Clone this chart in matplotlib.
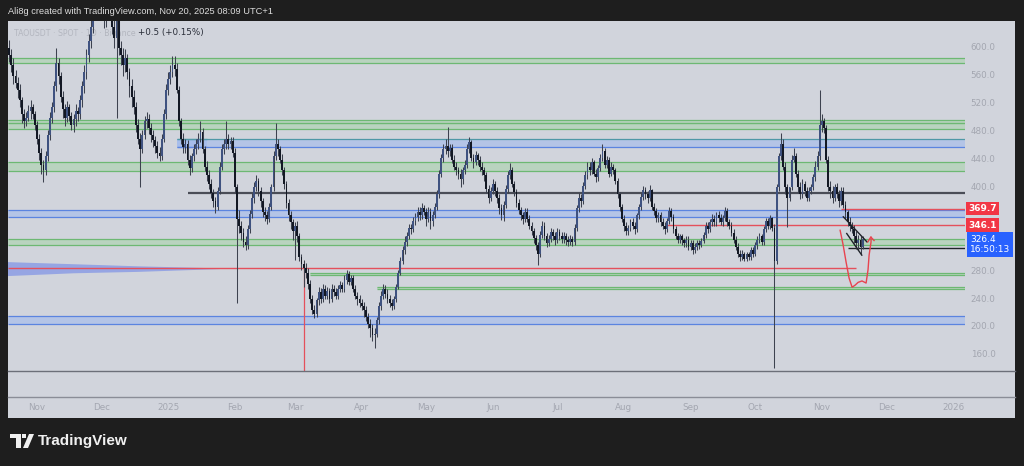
import numpy as np
import pandas as pd
import matplotlib.pyplot as plt
import matplotlib.transforms as mtransforms
from matplotlib.lines import Line2D
from matplotlib.patches import Rectangle, Polygon

# TAOUSDT daily candles (Oct 19 2024 -> Nov 20 2025)
start = pd.Timestamp('2024-10-19')
first_open = 600

closes = [
    590, 575, 560, 550, 540, 525, 505, 495, 500, 510,
    515, 505, 490, 470, 450, 432, 425, 445, 475, 500,
    515, 545, 578, 560, 530, 512, 500, 515, 502, 490,
    498, 510, 505, 525, 545, 565, 590, 610, 630, 650,
    680, 700, 690, 660, 640, 660, 690, 650, 630, 615,
    640, 600, 590, 575, 585, 565, 545, 530, 515, 490,
    470, 455, 475, 495, 498, 485, 475, 468, 460, 450,
    445, 470, 505, 540, 555, 565, 575, 570, 540, 495,
    470, 458, 462, 440, 428, 445, 455, 462, 470, 480,
    455, 430, 418, 405, 392, 380, 372, 395, 430, 455,
    462, 470, 462, 466, 450, 400, 355, 345, 335, 322,
    318, 340, 362, 385, 400, 410, 395, 380, 365, 360,
    355, 372, 400, 445, 462, 455, 440, 425, 405, 378,
    360, 350, 338, 345, 330, 300, 290, 285, 278, 262,
    240, 225, 218, 238, 250, 240, 255, 245, 252, 240,
    255, 250, 245, 255, 260, 255, 268, 276, 265, 270,
    255, 245, 240, 235, 230, 225, 215, 205, 198, 188,
    190, 210, 230, 245, 255, 248, 240, 235, 230, 240,
    258, 278, 295, 310, 322, 330, 342, 340, 352, 358,
    365, 360, 370, 365, 355, 365, 352, 360, 372, 390,
    420, 442, 455, 460, 452, 456, 440, 430, 425, 420,
    412, 425, 432, 455, 465, 442, 436, 446, 440, 430,
    425, 418, 398, 385, 395, 405, 395, 385, 370, 360,
    375, 398, 418, 425, 405, 393, 378, 368, 360, 355,
    365, 355, 345, 338, 328, 318, 305, 332, 345, 330,
    320, 326, 336, 330, 325, 336, 330, 326, 330, 324,
    322, 326, 322, 342, 370, 385, 380, 402, 418, 430,
    425, 436, 420, 415, 428, 442, 452, 432, 440, 420,
    430, 425, 410, 390, 372, 355, 345, 338, 342, 350,
    345, 340, 360, 372, 386, 396, 390, 385, 396, 372,
    366, 356, 360, 350, 345, 340, 352, 366, 358, 340,
    330, 325, 330, 324, 320, 325, 315, 320, 310, 315,
    320, 318, 323, 332, 345, 340, 350, 355, 350, 360,
    356, 350, 356, 366, 350, 345, 335, 325, 315, 305,
    300, 305, 298, 304, 300, 310, 305, 318, 325, 330,
    322, 340, 352, 345, 356, 342, 295, 400, 445, 462,
    430, 400, 385, 400, 440, 445, 420, 400, 390, 405,
    395, 385, 395, 400, 415, 430, 445, 490, 495, 485,
    440, 400, 395, 385, 400, 390, 380, 395, 375, 365,
    350, 345, 340, 330, 320, 325, 315, 326.4,
]

highs = [
    612, 598, 585, 568, 558, 548, 530, 512, 508, 518,
    525, 520, 510, 495, 476, 456, 440, 452, 482, 508,
    522, 552, 600, 585, 566, 538, 520, 524, 520, 508,
    506, 520, 515, 532, 552, 575, 598, 620, 642, 665,
    690, 720, 715, 700, 670, 668, 705, 700, 660, 640,
    660, 645, 610, 600, 598, 592, 572, 555, 540, 522,
    498, 478, 482, 502, 508, 505, 492, 482, 474, 466,
    458, 476, 512, 548, 565, 575, 588, 588, 578, 545,
    500, 478, 470, 468, 446, 450, 462, 470, 478, 495,
    485, 460, 438, 425, 412, 398, 386, 400, 436, 462,
    470, 495, 476, 472, 472, 456, 405, 368, 352, 342,
    330, 346, 368, 392, 408, 418, 414, 400, 385, 372,
    366, 378, 405, 452, 492, 470, 460, 448, 430, 410,
    384, 366, 355, 350, 352, 335, 305, 296, 292, 284,
    268, 246, 232, 242, 258, 256, 262, 260, 258, 256,
    262, 260, 256, 260, 266, 265, 274, 282, 280, 275,
    274, 260, 250, 246, 240, 236, 230, 220, 212, 204,
    198, 215, 236, 252, 262, 260, 254, 246, 240, 245,
    262, 282, 300, 316, 330, 336, 348, 348, 358, 364,
    372, 372, 378, 375, 370, 372, 370, 366, 378, 396,
    425, 448, 462, 470, 487, 462, 462, 446, 436, 430,
    426, 430, 440, 462, 472, 468, 448, 452, 450, 445,
    436, 430, 422, 404, 400, 412, 410, 400, 390, 376,
    380, 404, 424, 435, 430, 410, 398, 384, 372, 365,
    370, 370, 360, 350, 342, 332, 322, 338, 352, 350,
    335, 332, 342, 340, 336, 342, 340, 336, 336, 335,
    330, 332, 330, 348, 375, 392, 390, 408, 424, 436,
    436, 442, 440, 426, 432, 448, 462, 456, 445, 444,
    436, 434, 428, 414, 394, 376, 360, 350, 346, 355,
    356, 350, 364, 376, 392, 402, 400, 395, 404, 398,
    378, 370, 365, 365, 356, 350, 356, 372, 370, 362,
    345, 335, 334, 334, 328, 330, 330, 324, 325, 320,
    325, 324, 328, 336, 350, 350, 355, 362, 360, 365,
    366, 362, 360, 372, 370, 355, 350, 340, 330, 320,
    310, 310, 308, 308, 308, 314, 314, 322, 330, 335,
    334, 345, 356, 356, 360, 358, 348, 405, 450, 478,
    470, 436, 405, 400, 446, 456, 450, 425, 408, 412,
    410, 400, 400, 405, 420, 438, 452, 540, 505, 500,
    490, 445, 410, 402, 405, 406, 396, 400, 400, 380,
    368, 358, 350, 346, 338, 332, 330, 330,
]

lows = [
    580, 565, 548, 542, 528, 515, 492, 485, 488, 495,
    498, 498, 482, 462, 440, 420, 408, 418, 438, 468,
    492, 508, 538, 548, 522, 500, 488, 494, 495, 482,
    480, 488, 496, 498, 515, 535, 555, 580, 600, 622,
    642, 665, 675, 650, 628, 630, 652, 640, 620, 600,
    500, 590, 575, 560, 565, 555, 530, 515, 505, 480,
    462, 400, 450, 470, 485, 476, 465, 458, 450, 442,
    438, 440, 465, 498, 532, 548, 558, 560, 535, 488,
    462, 450, 450, 432, 418, 422, 438, 448, 455, 465,
    450, 424, 410, 398, 385, 372, 363, 368, 390, 425,
    448, 455, 455, 455, 444, 392, 234, 335, 325, 315,
    310, 312, 335, 356, 378, 395, 388, 372, 358, 352,
    348, 350, 368, 395, 440, 445, 435, 418, 398, 370,
    352, 340, 325, 296, 322, 295, 282, 258, 270, 255,
    235, 218, 213, 214, 232, 235, 236, 240, 240, 234,
    236, 244, 240, 240, 250, 250, 250, 262, 260, 260,
    250, 240, 232, 228, 224, 215, 208, 198, 185, 180,
    170, 186, 205, 225, 240, 242, 234, 228, 224, 226,
    236, 254, 274, 290, 305, 316, 326, 333, 336, 346,
    352, 354, 355, 360, 345, 350, 340, 345, 356, 368,
    385, 415, 436, 448, 444, 445, 435, 425, 418, 412,
    400, 405, 420, 428, 450, 438, 428, 432, 432, 424,
    418, 410, 392, 378, 380, 390, 388, 378, 362, 354,
    352, 370, 392, 412, 400, 388, 372, 362, 354, 348,
    350, 350, 340, 332, 320, 310, 289, 300, 328, 325,
    315, 316, 322, 325, 318, 320, 325, 320, 320, 318,
    316, 318, 316, 318, 338, 365, 372, 376, 398, 412,
    418, 420, 416, 408, 410, 424, 438, 428, 428, 415,
    416, 420, 405, 385, 366, 350, 338, 332, 332, 338,
    340, 334, 336, 355, 368, 382, 384, 378, 380, 368,
    360, 350, 350, 345, 340, 334, 336, 348, 352, 335,
    326, 320, 320, 318, 314, 315, 310, 310, 305, 306,
    310, 312, 314, 320, 328, 335, 336, 345, 345, 345,
    350, 346, 345, 352, 345, 340, 330, 320, 310, 300,
    295, 296, 294, 294, 296, 296, 300, 302, 312, 320,
    318, 318, 336, 340, 340, 338, 141, 290, 395, 440,
    425, 390, 343, 380, 396, 436, 415, 392, 384, 385,
    388, 380, 380, 390, 396, 410, 425, 440, 480, 478,
    435, 395, 385, 378, 380, 385, 372, 375, 370, 355,
    345, 338, 335, 320, 312, 310, 305, 312,
]

# drawn zones: (low, high, from, to)  -- to=None means up to the right edge
green_zones = [
    (578, 586, '2024-10-19', None),
    (484, 497, '2024-10-19', None),
    (424, 436, '2024-10-19', None),
    (317, 326, '2024-10-19', None),
    (274, 277, '2025-03-08', None),
    (254, 257, '2025-04-08', None),
]
blue_zones = [
    (458.5, 469, '2025-01-05', None),
    (458.5, 469, '2025-01-05', '2025-01-19'),
    (358, 368, '2024-10-19', None),
    (204, 216, '2024-10-19', None),
]
# horizontal levels: (price, from, to, colour)
levels = [
    (493, '2024-10-19', None, '#6db873'),
    (392, '2025-01-10', None, '#4a4d57'),
    (369.7, '2025-11-10', None, '#e4505c'),
    (346.1, '2025-08-21', None, '#e4505c'),
    (284, '2024-10-19', '2025-11-17', '#e4505c'),
    (313, '2025-11-13', None, '#1f2229'),
]
red_vline_date = '2025-03-05'
red_vline_top = 284

# hand-drawn triangle and red arrow near the last candles (days since start, price)
tri_upper_d = [388.0, 399.0]
tri_upper_p = [358, 322]
tri_lower_d = [389.6, 396.6]
tri_lower_p = [334, 303]
curve_d = [386.5, 387.9, 389.3, 390.7, 392.1, 393.5, 394.9, 396.7, 398.6, 399.5, 400.0, 400.9, 400.9]
curve_p = [339, 318, 293, 270, 257, 260, 264, 266, 263, 282, 303, 322, 329]
arrow_d = [399.4, 400.8, 402.3]
arrow_p = [322, 329, 324]

# volume-profile smear on the left
vp_d = [-0.5, -0.5, 30, 60, 98, 98, 60, 30]
vp_p = [273, 293, 290, 287, 284, 283, 279, 277]

price_ticks = [600, 560, 520, 480, 440, 400, 280, 240, 200, 160]
month_dates = ['2024-11-01', '2024-12-01', '2025-01-01', '2025-02-01', '2025-03-01',
               '2025-04-01', '2025-05-01', '2025-06-01', '2025-07-01', '2025-08-01',
               '2025-09-01', '2025-10-01', '2025-11-01', '2025-12-01', '2026-01-01']
month_labels = ['Nov', 'Dec', '2025', 'Feb', 'Mar', 'Apr', 'May', 'Jun', 'Jul', 'Aug',
                'Sep', 'Oct', 'Nov', 'Dec', '2026']

# ---------------------------------------------------------------------------
W, H = 1024, 466
fig = plt.figure(figsize=(W / 100, H / 100), dpi=100, facecolor='#1e1e1e')


def box(l, t, r, b):
    return [l / W, 1 - b / H, (r - l) / W, (b - t) / H]


def day(s):
    return (pd.Timestamp(s) - start).days


bg = fig.add_axes(box(8, 21, 1015, 418))
bg.set_facecolor('#d1d4dc')
bg.set_xticks([])
bg.set_yticks([])
for s in bg.spines.values():
    s.set_visible(False)

ax = fig.add_axes(box(8, 21, 965, 371))
ax.set_facecolor('none')
ax.set_xticks([])
ax.set_yticks([])
for s in ax.spines.values():
    s.set_visible(False)
xmin, xmax = -0.49, 444.6
ax.set_xlim(xmin, xmax)
ax.set_ylim(136.9, 638.7)

# zones
for lo, hi, d0, d1 in green_zones:
    x0 = day(d0) if d0 != '2024-10-19' else xmin
    x1 = day(d1) if d1 else xmax
    ax.fill_between([x0, x1], lo, hi, color='#a6d3a8', alpha=0.55, lw=0, zorder=1)
    ax.hlines([lo, hi], x0, x1, color='#6db873', lw=0.9, zorder=1.2)
for lo, hi, d0, d1 in blue_zones:
    x0 = day(d0) if d0 != '2024-10-19' else xmin
    x1 = day(d1) if d1 else xmax
    ax.fill_between([x0, x1], lo, hi, color='#9db8f0', alpha=0.55, lw=0, zorder=1)
    ax.hlines(lo, x0, x1, color='#5b84e0', lw=0.9, zorder=1.2)
    ax.hlines(hi, x0, x1, color='#4f98a6' if lo > 400 else '#5b84e0', lw=0.9, zorder=1.2)
for p, d0, d1, col in levels:
    x0 = day(d0) if d0 != '2024-10-19' else xmin
    x1 = day(d1) if d1 else xmax
    ax.hlines(p, x0, x1, color=col, lw=1.6 if col == '#4a4d57' else 1.0, zorder=1.3)
ax.vlines(day(red_vline_date), 136.9, red_vline_top, color='#e4505c', lw=0.9, zorder=1.3)
ax.add_patch(Polygon(list(zip(vp_d, vp_p)), closed=True, facecolor='#6f86e8', alpha=0.6,
                     edgecolor='none', zorder=1.1))

# legend text sits behind the candles
ax.text(14 / W, 1 - 33 / H, 'TAOUSDT · SPOT · 1D · Binance', transform=fig.transFigure,
        fontsize=5.6, color='#b3b6bf', va='center', ha='left', zorder=0.5)
ax.text(138 / W, 1 - 33 / H, '+0.5 (+0.15%)', transform=fig.transFigure,
        fontsize=6.3, color='#2a2e39', va='center', ha='left', zorder=0.5)

# candles
x = np.arange(len(closes))
c = np.array(closes, dtype=float)
o = np.concatenate([[first_open], c[:-1]])
hi_ = np.array(highs, dtype=float)
lo_ = np.array(lows, dtype=float)
up = c >= o
ax.vlines(x, lo_, hi_, color='#3d424f', lw=0.75, zorder=2)
body_lo = np.minimum(o, c)
body_h = np.maximum(np.abs(c - o), 0.8)
ax.bar(x, body_h, bottom=body_lo, width=0.85,
       color=np.where(up, '#3f5280', '#131824'), lw=0, zorder=2.5)

# triangle + red sketch
ax.plot(tri_upper_d, tri_upper_p, color='#1f2229', lw=1.0, zorder=3)
ax.plot(tri_lower_d, tri_lower_p, color='#1f2229', lw=1.0, zorder=3)
ax.plot(curve_d, curve_p, color='#e8434f', lw=1.0, zorder=3, solid_capstyle='round')
ax.plot(arrow_d, arrow_p, color='#e8434f', lw=1.0, zorder=3)

# price scale
ty = mtransforms.blended_transform_factory(fig.transFigure, ax.transData)
for p in price_ticks:
    ax.text(983 / W, p, f'{p:.1f}', transform=ty, ha='center', va='center',
            fontsize=6.3, color='#a3a6b0')
for p in [369.7, 346.1]:
    ax.text(982.5 / W, p, f'{p:.1f}', transform=ty, ha='center', va='center',
            fontsize=6.5, color='white', fontweight='bold',
            bbox=dict(boxstyle='square,pad=0.25', fc='#f23645', ec='none'))
ax.text(970 / W, 318.5, f'{closes[-1]:.1f}\n16:50:13', transform=ty, ha='left', va='center',
        fontsize=6.5, color='white', linespacing=1.15,
        bbox=dict(boxstyle='square,pad=0.35', fc='#2962ff', ec='none'))

# time scale
tx = mtransforms.blended_transform_factory(ax.transData, fig.transFigure)
for d, lab in zip(month_dates, month_labels):
    ax.text(day(d), 1 - 408 / H, lab, transform=tx, ha='center', va='center',
            fontsize=6.3, color='#a3a6b0')

fig.add_artist(Line2D([8 / W, 1015 / W], [1 - 371 / H] * 2, color='#6c6f79', lw=1.0))
fig.add_artist(Line2D([8 / W, 1015 / W], [1 - 397 / H] * 2, color='#8a8d97', lw=1.0))

# header / footer
fig.text(8 / W, 1 - 11 / H, 'Ali8g created with TradingView.com, Nov 20, 2025 08:09 UTC+1',
         fontsize=6.7, color='#dcdcdc', family='Liberation Sans', va='center', ha='left')
fig.add_artist(Rectangle((10 / W, 1 - 438 / H), 11 / W, 4 / H, transform=fig.transFigure,
                         facecolor='#f0f0f0', edgecolor='none'))
fig.add_artist(Rectangle((16 / W, 1 - 448 / H), 5 / W, 14 / H, transform=fig.transFigure,
                         facecolor='#f0f0f0', edgecolor='none'))
fig.add_artist(Polygon([(23 / W, 1 - 448 / H), (28 / W, 1 - 448 / H), (34 / W, 1 - 434 / H),
                        (29 / W, 1 - 434 / H)], closed=True, transform=fig.transFigure,
                       facecolor='#f0f0f0', edgecolor='none'))
fig.add_artist(Rectangle((22 / W, 1 - 438 / H), 4 / W, 4 / H, transform=fig.transFigure,
                         facecolor='#f0f0f0', edgecolor='none'))
fig.text(38 / W, 1 - 441 / H, 'TradingView', fontsize=11, fontweight='bold',
         color='#f0f0f0', family='Liberation Sans', va='center', ha='left')

fig.savefig('out.png', dpi=100, facecolor=fig.get_facecolor())
